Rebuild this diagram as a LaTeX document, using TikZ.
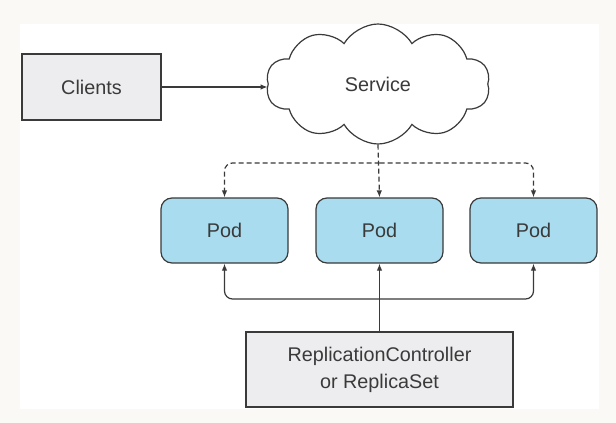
\documentclass[tikz,border=0pt]{standalone}
\usepackage{fontspec}
\setmainfont{Liberation Sans}
\usetikzlibrary{shapes.symbols,arrows.meta}
\definecolor{bgout}{HTML}{FAF9F5}
\definecolor{ink}{HTML}{3A3A3A}
\definecolor{podfill}{HTML}{A8DCEE}
\definecolor{boxfill}{HTML}{EDEDEF}
\begin{document}
\begin{tikzpicture}[x=1pt,y=-1pt,
  every node/.style={font=\fontsize{19.8}{27}\selectfont, text=ink},
  link/.style={draw=ink, line width=1.2pt},
  tip/.style={-{Latex[length=7pt,width=5.5pt]}},
  dashline/.style={dash pattern=on 5pt off 3pt},
  graybox/.style={draw=ink, line width=1.2pt, fill=boxfill, inner sep=0pt},
  pod/.style={draw=ink, line width=1.2pt, fill=podfill, rounded corners=11pt,
    minimum width=127pt, minimum height=65pt, inner sep=0pt}]
\fill[bgout] (0,0) rectangle (616,423);
\fill[white] (20,24) rectangle (599,409);
\useasboundingbox (0,0) rectangle (616,423);
\node[graybox, minimum width=139pt, minimum height=66pt] (clients) at (91.5,87) {Clients};
\node[cloud, cloud puffs=10, cloud puff arc=120, aspect=1.86, draw=ink, line width=1.2pt,
  fill=white, minimum width=224pt, minimum height=120pt, inner sep=0pt] (service) at (378,84) {Service};
\node[pod] (pod1) at (224.5,230.5) {Pod};
\node[pod] (pod2) at (379.5,230.5) {Pod};
\node[pod] (pod3) at (533.5,230.5) {Pod};
\node[graybox, minimum width=267pt, minimum height=75pt, align=center] (rc) at (379.5,369.5)
  {ReplicationController\\or ReplicaSet};
\coordinate (dsplit) at (379.5,163);
\coordinate (ssplit) at (379.5,299);
\draw[link, tip] (clients.east) -- (clients.east -| service.west);
\draw[link, dashline, tip] (service.south) -- (pod2.north);
\draw[link, dashline, tip, rounded corners=8pt] (dsplit) -| (pod1.north);
\draw[link, dashline, tip, rounded corners=8pt] (dsplit) -| (pod3.north);
\draw[link, tip] (rc.north) -- (pod2.south);
\draw[link, tip, rounded corners=8pt] (ssplit) -| (pod1.south);
\draw[link, tip, rounded corners=8pt] (ssplit) -| (pod3.south);
\end{tikzpicture}
\end{document}
